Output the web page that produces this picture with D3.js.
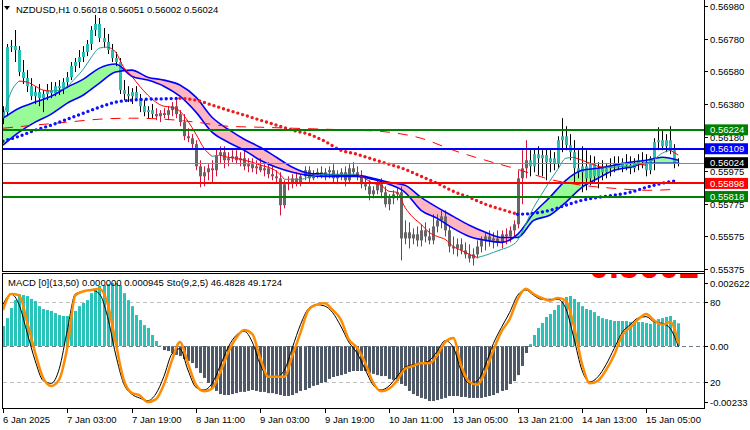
<!DOCTYPE html>
<html>
<head>
<meta charset="utf-8">
<script src="https://cdn.jsdelivr.net/npm/d3@7/dist/d3.min.js"></script>
<style>
	body { margin: 0; background: #fff; }
	svg { display: block; }
	text { font-family: "Liberation Sans", Arial, sans-serif; font-size: 9.5px; fill: #000; }
</style>
</head>
<body>
<svg id="chart" width="750" height="430"></svg>
<script>
// NZDUSD H1 candles, bar 0 = 6 Jan 2025 12:00
const open = [
	0.56295,0.56332,0.56728,0.56734,0.56710,0.56576,0.56539,0.56490,0.56429,0.56454,
	0.56417,0.56442,0.56466,0.56448,0.56490,0.56478,0.56515,0.56545,0.56612,0.56637,
	0.56667,0.56698,0.56747,0.56832,0.56869,0.56783,0.56759,0.56710,0.56661,0.56637,
	0.56466,0.56442,0.56429,0.56454,0.56417,0.56368,0.56332,0.56344,0.56320,0.56307,
	0.56326,0.56314,0.56344,0.56368,0.56320,0.56271,0.56185,0.56173,0.56137,0.56002,
	0.55941,0.55966,0.55990,0.55978,0.56070,0.56088,0.56039,0.56051,0.56063,0.56039,
	0.56051,0.56002,0.56015,0.55990,0.56002,0.55978,0.55990,0.55954,0.55941,0.55929,
	0.55765,0.55893,0.55905,0.55929,0.55905,0.55941,0.55978,0.55929,0.55954,0.55966,
	0.55941,0.55966,0.55978,0.55929,0.55954,0.55966,0.55917,0.55990,0.55966,0.55941,
	0.55893,0.55880,0.55832,0.55856,0.55893,0.55844,0.55771,0.55807,0.55832,0.55844,
	0.55563,0.55600,0.55563,0.55588,0.55551,0.55612,0.55575,0.55551,0.55636,0.55673,
	0.55697,0.55612,0.55514,0.55502,0.55527,0.55490,0.55466,0.55441,0.55466,0.55514,
	0.55551,0.55575,0.55551,0.55563,0.55539,0.55588,0.55575,0.55612,0.55649,0.55929,
	0.55990,0.56039,0.56002,0.56076,0.56051,0.56070,0.56027,0.56051,0.56021,0.56161,
	0.56185,0.56131,0.56088,0.55990,0.55966,0.56002,0.55929,0.56015,0.55941,0.55990,
	0.55966,0.55990,0.56002,0.56015,0.56002,0.56027,0.56009,0.55990,0.56021,0.56039,
	0.56027,0.55978,0.56051,0.56149,0.56161,0.56124,0.56161,0.56100,0.56018
];
const high = [
	0.56368,0.56747,0.56771,0.56832,0.56734,0.56649,0.56588,0.56539,0.56490,0.56503,
	0.56466,0.56503,0.56515,0.56515,0.56527,0.56539,0.56576,0.56637,0.56661,0.56710,
	0.56734,0.56771,0.56856,0.56924,0.56905,0.56844,0.56808,0.56747,0.56698,0.56661,
	0.56527,0.56490,0.56478,0.56490,0.56442,0.56405,0.56368,0.56381,0.56356,0.56344,
	0.56356,0.56368,0.56393,0.56405,0.56344,0.56320,0.56234,0.56198,0.56161,0.56039,
	0.56002,0.56015,0.56039,0.56112,0.56124,0.56124,0.56088,0.56100,0.56100,0.56088,
	0.56100,0.56051,0.56051,0.56039,0.56051,0.56015,0.56027,0.56002,0.55978,0.55966,
	0.55917,0.55941,0.55954,0.55966,0.55954,0.56002,0.56002,0.55978,0.55990,0.56002,
	0.55990,0.56002,0.56015,0.55978,0.55990,0.56002,0.56015,0.56027,0.56002,0.55978,
	0.55941,0.55917,0.55880,0.55917,0.55929,0.55880,0.55832,0.55856,0.55868,0.55880,
	0.55673,0.55661,0.55624,0.55636,0.55649,0.55661,0.55624,0.55710,0.55710,0.55734,
	0.55734,0.55636,0.55575,0.55563,0.55563,0.55539,0.55527,0.55502,0.55551,0.55575,
	0.55600,0.55612,0.55600,0.55612,0.55612,0.55624,0.55636,0.55673,0.55978,0.56100,
	0.56161,0.56100,0.56112,0.56124,0.56100,0.56112,0.56100,0.56088,0.56185,0.56295,
	0.56246,0.56198,0.56161,0.56100,0.56124,0.56100,0.56070,0.56063,0.56027,0.56039,
	0.56015,0.56051,0.56063,0.56063,0.56051,0.56076,0.56063,0.56051,0.56076,0.56088,
	0.56076,0.56063,0.56173,0.56240,0.56222,0.56198,0.56246,0.56137,0.56051
];
const low = [
	0.56259,0.56307,0.56698,0.56637,0.56551,0.56503,0.56454,0.56405,0.56381,0.56368,
	0.56332,0.56405,0.56417,0.56429,0.56436,0.56442,0.56478,0.56527,0.56576,0.56600,
	0.56637,0.56673,0.56710,0.56795,0.56759,0.56722,0.56686,0.56637,0.56612,0.56442,
	0.56405,0.56393,0.56381,0.56405,0.56332,0.56307,0.56295,0.56295,0.56283,0.56271,
	0.56295,0.56283,0.56307,0.56295,0.56246,0.56161,0.56149,0.56112,0.55978,0.55874,
	0.55880,0.55917,0.55905,0.55941,0.56015,0.55990,0.56002,0.56027,0.56015,0.56002,
	0.55978,0.55966,0.55966,0.55954,0.55966,0.55941,0.55929,0.55917,0.55905,0.55703,
	0.55746,0.55856,0.55868,0.55880,0.55880,0.55917,0.55905,0.55917,0.55929,0.55929,
	0.55917,0.55929,0.55905,0.55893,0.55917,0.55880,0.55905,0.55941,0.55917,0.55868,
	0.55856,0.55795,0.55807,0.55832,0.55807,0.55752,0.55734,0.55771,0.55795,0.55429,
	0.55527,0.55502,0.55527,0.55514,0.55514,0.55539,0.55527,0.55527,0.55600,0.55624,
	0.55575,0.55478,0.55466,0.55453,0.55466,0.55441,0.55417,0.55398,0.55441,0.55478,
	0.55490,0.55514,0.55502,0.55514,0.55502,0.55527,0.55539,0.55575,0.55624,0.55771,
	0.55929,0.55941,0.55966,0.55947,0.55941,0.55917,0.55966,0.55978,0.55990,0.56088,
	0.56100,0.56039,0.55905,0.55929,0.55844,0.55856,0.55886,0.55905,0.55868,0.55917,
	0.55929,0.55941,0.55966,0.55978,0.55966,0.55978,0.55954,0.55966,0.55978,0.55990,
	0.55941,0.55954,0.55978,0.56100,0.56100,0.56088,0.56076,0.55990,0.56002
];
const close = [
	0.56332,0.56728,0.56734,0.56710,0.56576,0.56539,0.56490,0.56429,0.56454,0.56417,
	0.56442,0.56466,0.56448,0.56490,0.56478,0.56515,0.56545,0.56612,0.56637,0.56667,
	0.56698,0.56747,0.56832,0.56869,0.56783,0.56759,0.56710,0.56661,0.56637,0.56466,
	0.56442,0.56429,0.56454,0.56417,0.56368,0.56332,0.56344,0.56320,0.56307,0.56326,
	0.56314,0.56344,0.56368,0.56320,0.56271,0.56185,0.56173,0.56137,0.56002,0.55941,
	0.55966,0.55990,0.55978,0.56070,0.56088,0.56039,0.56051,0.56063,0.56039,0.56051,
	0.56002,0.56015,0.55990,0.56002,0.55978,0.55990,0.55954,0.55941,0.55929,0.55765,
	0.55893,0.55905,0.55929,0.55905,0.55941,0.55978,0.55929,0.55954,0.55966,0.55941,
	0.55966,0.55978,0.55929,0.55954,0.55966,0.55917,0.55990,0.55966,0.55941,0.55893,
	0.55880,0.55832,0.55856,0.55893,0.55844,0.55771,0.55807,0.55832,0.55844,0.55563,
	0.55600,0.55563,0.55588,0.55551,0.55612,0.55575,0.55551,0.55636,0.55673,0.55697,
	0.55612,0.55514,0.55502,0.55527,0.55490,0.55466,0.55441,0.55466,0.55514,0.55551,
	0.55575,0.55551,0.55563,0.55539,0.55588,0.55575,0.55612,0.55649,0.55929,0.55990,
	0.56039,0.56002,0.56076,0.56051,0.56070,0.56027,0.56051,0.56021,0.56161,0.56185,
	0.56131,0.56088,0.55990,0.55966,0.56002,0.55929,0.56015,0.55941,0.55990,0.55966,
	0.55990,0.56002,0.56015,0.56002,0.56027,0.56009,0.55990,0.56021,0.56039,0.56027,
	0.55978,0.56051,0.56149,0.56161,0.56124,0.56161,0.56100,0.56018,0.56024
];
// bars painted grey (downtrend colouring), first and last index
const grayBars = [38, 130];

// indicator lines, sampled every 4 bars
const ribbonBars = d3.range(0, 169, 4);
const ribbonFast = [
	0.56295,0.56356,0.56393,0.56429,0.56484,0.56533,0.56600,0.56625,0.56551,0.56527,
	0.56490,0.56429,0.56332,0.56210,0.56149,0.56100,0.56039,0.55996,0.55966,0.55947,
	0.55941,0.55941,0.55941,0.55923,0.55893,0.55844,0.55734,0.55685,0.55624,0.55575,
	0.55551,0.55539,0.55588,0.55716,0.55813,0.55917,0.55978,0.55990,0.56009,0.56027,
	0.56039,0.56057,0.56039
];
const ribbonSlow = [
	0.56131,0.56210,0.56271,0.56320,0.56387,0.56436,0.56509,0.56576,0.56588,0.56545,
	0.56527,0.56497,0.56423,0.56301,0.56228,0.56167,0.56118,0.56057,0.55996,0.55960,
	0.55954,0.55947,0.55947,0.55929,0.55905,0.55887,0.55813,0.55752,0.55697,0.55643,
	0.55600,0.55569,0.55569,0.55673,0.55704,0.55783,0.55874,0.55929,0.55978,0.55996,
	0.56021,0.56021,0.56021
];
const dottedMa = [
	0.56155,0.56185,0.56222,0.56253,0.56289,0.56326,0.56362,0.56393,0.56405,0.56411,
	0.56413,0.56416,0.56405,0.56375,0.56344,0.56314,0.56283,0.56253,0.56222,0.56198,
	0.56155,0.56100,0.56076,0.56045,0.56015,0.55984,0.55941,0.55899,0.55850,0.55813,
	0.55771,0.55740,0.55710,0.55716,0.55734,0.55765,0.55795,0.55813,0.55826,0.55844,
	0.55874,0.55899,0.55917
];
// dashed slow average, every 8 bars
const dashedBars = d3.range(0, 169, 8);
const dashedMa = [
	0.56234,0.56253,0.56271,0.56289,0.56295,0.56289,0.56271,0.56246,0.56240,0.56234,
	0.56228,0.56222,0.56210,0.56173,0.56100,0.56039,0.55984,0.55923,0.55887,0.55868,
	0.55856,0.55862
];
// thin fast average, every 2 bars
const thinBars = d3.range(0, 169, 2);
const thinMa = [
	0.56295,0.56454,0.56521,0.56515,0.56490,0.56466,0.56460,0.56466,0.56490,0.56539,
	0.56594,0.56667,0.56722,0.56728,0.56698,0.56606,0.56551,0.56490,0.56436,0.56393,
	0.56368,0.56362,0.56338,0.56277,0.56198,0.56112,0.56063,0.56070,0.56057,0.56051,
	0.56039,0.56027,0.56009,0.55996,0.55972,0.55923,0.55923,0.55923,0.55935,0.55947,
	0.55954,0.55954,0.55954,0.55954,0.55954,0.55929,0.55899,0.55887,0.55850,0.55844,
	0.55752,0.55691,0.55649,0.55600,0.55575,0.55557,0.55514,0.55490,0.55466,0.55447,
	0.55460,0.55478,0.55496,0.55514,0.55551,0.55649,0.55752,0.55832,0.55911,0.55984,
	0.56051,0.56057,0.56039,0.56021,0.56002,0.55996,0.55996,0.56002,0.56002,0.56015,
	0.56009,0.56045,0.56082,0.56100,0.56070
];

// horizontal levels
const levelValues = [0.56224, 0.56109, 0.56024, 0.55898, 0.55818];
const levelLine = ["#008000", "#0000ff", "#778899", "#ff0000", "#008000"];
const levelBox = ["#008000", "#0000ff", "#000000", "#ff0000", "#008000"];
const levelWidth = [2, 2, 1, 2, 2];
const priceTicks = [0.5698, 0.5678, 0.5658, 0.5638, 0.5618, 0.55975, 0.55775, 0.55575, 0.55375];

// MACD histogram, one value per bar
const macdHist = [
	0.00083,0.00116,0.00158,0.00191,0.00216,0.00212,0.00208,0.00196,0.00187,0.00166,
	0.00154,0.00150,0.00146,0.00137,0.00129,0.00125,0.00125,0.00133,0.00146,0.00166,
	0.00179,0.00191,0.00220,0.00237,0.00250,0.00254,0.00258,0.00262,0.00262,0.00254,
	0.00220,0.00191,0.00166,0.00129,0.00108,0.00087,0.00075,0.00046,0.00021,0.00002,
	-0.00017,-0.00021,-0.00029,-0.00037,-0.00042,-0.00054,-0.00062,-0.00071,-0.00092,-0.00112,
	-0.00133,-0.00154,-0.00175,-0.00187,-0.00200,-0.00204,-0.00204,-0.00200,-0.00196,-0.00191,
	-0.00191,-0.00187,-0.00183,-0.00187,-0.00191,-0.00191,-0.00196,-0.00196,-0.00200,-0.00204,
	-0.00208,-0.00208,-0.00204,-0.00196,-0.00187,-0.00183,-0.00175,-0.00166,-0.00162,-0.00154,
	-0.00150,-0.00137,-0.00129,-0.00125,-0.00121,-0.00116,-0.00108,-0.00104,-0.00104,-0.00104,
	-0.00104,-0.00112,-0.00116,-0.00121,-0.00125,-0.00125,-0.00137,-0.00141,-0.00146,-0.00158,
	-0.00166,-0.00187,-0.00200,-0.00208,-0.00216,-0.00220,-0.00229,-0.00229,-0.00225,-0.00220,
	-0.00216,-0.00208,-0.00208,-0.00208,-0.00212,-0.00212,-0.00216,-0.00216,-0.00216,-0.00216,
	-0.00212,-0.00208,-0.00204,-0.00196,-0.00187,-0.00183,-0.00158,-0.00146,-0.00121,-0.00083,
	-0.00029,0.00008,0.00046,0.00075,0.00096,0.00121,0.00133,0.00150,0.00171,0.00187,
	0.00204,0.00208,0.00196,0.00183,0.00166,0.00154,0.00150,0.00141,0.00125,0.00116,
	0.00112,0.00108,0.00104,0.00104,0.00104,0.00104,0.00100,0.00100,0.00100,0.00100,
	0.00096,0.00092,0.00104,0.00112,0.00116,0.00121,0.00125,0.00108,0.000945
];
// stochastic, every 2 bars
const stoBars = d3.range(0, 169, 2);
const stoMain = [
	78,86,78,57,36,21,19,30,59,86,88,89,86,69,41,19,11,8,6,11,
	24,41,45,29,16,14,19,32,46,55,58,50,33,24,24,29,46,63,75,78,
	77,72,62,50,42,30,18,14,17,24,31,33,34,36,43,51,46,28,19,21,
	33,49,61,72,85,89,85,82,82,82,75,53,29,20,24,33,45,57,63,68,
	69,65,64,60,46.4828
];
const stoSignal = [
	74,86,85,65,42,23,17,22,46,85,88,89,90,79,50,22,12,10,5,7,
	18,36,50,34,18,13,15,27,42,53,59,56,38,24,24,24,40,57,74,78,
	79,74,67,52,46,35,20,13,15,21,30,32,34,34,40,50,53,32,20,18,
	28,44,58,67,82,90,86,83,81,83,81,62,34,19,21,29,40,55,61,67,
	71,66,63,65,49.1724
];

const timeBars = [0, 16, 32, 48, 64, 80, 96, 112, 128, 144, 160];
const timeLabels = ["6 Jan 2025", "7 Jan 03:00", "7 Jan 19:00", "8 Jan 11:00", "9 Jan 03:00",
	"9 Jan 19:00", "10 Jan 11:00", "13 Jan 05:00", "13 Jan 21:00", "14 Jan 13:00", "15 Jan 05:00"];

// ================== scales ==================
const svg = d3.select("#chart");
const x = d3.scaleLinear().domain([0, 168]).range([3, 678.4]);
const yPrice = d3.scaleLinear().domain([0.55375, 0.5698]).range([269.3, 5.7]);
const yMacd = d3.scaleLinear().domain([-0.00233, 0.002622]).range([402, 283]);
const ySto = d3.scaleLinear().domain([0, 100]).range([408.7, 275.3]);
const fmt5 = d3.format(".5f");

const defs = svg.append("defs");
defs.append("clipPath").attr("id", "clipMain").append("rect")
	.attr("x", 3).attr("y", 0).attr("width", 701).attr("height", 271);
defs.append("clipPath").attr("id", "clipSub").append("rect")
	.attr("x", 3).attr("y", 274).attr("width", 701).attr("height", 134);

const main = svg.append("g").attr("clip-path", "url(#clipMain)");
const sub = svg.append("g").attr("clip-path", "url(#clipSub)");

// ================== ribbon ==================
const ribbon = ribbonBars.map((b, k) => ({ b, a: ribbonFast[k], s: ribbonSlow[k] }));
const curve = d3.curveMonotoneX;
defs.append("clipPath").attr("id", "aboveSlow").append("path")
	.attr("d", d3.area().curve(curve).x((d) => x(d.b)).y0(0).y1((d) => yPrice(d.s))(ribbon));
defs.append("clipPath").attr("id", "belowSlow").append("path")
	.attr("d", d3.area().curve(curve).x((d) => x(d.b)).y0(275).y1((d) => yPrice(d.s))(ribbon));
const band = d3.area().curve(curve).x((d) => x(d.b)).y0((d) => yPrice(d.a)).y1((d) => yPrice(d.s));
main.append("path").attr("d", band(ribbon)).attr("fill", "#98fb98").attr("clip-path", "url(#aboveSlow)");
main.append("path").attr("d", band(ribbon)).attr("fill", "#ffb6c1").attr("clip-path", "url(#belowSlow)");

// ================== candles ==================
const candles = close.map((c, i) => ({ i, o: open[i], h: high[i], l: low[i], c,
	dn: i >= grayBars[0] && i <= grayBars[1] }));
main.selectAll("line.wick").data(candles).join("line")
	.attr("class", "wick")
	.attr("x1", (d) => Math.round(x(d.i)) + 0.5)
	.attr("x2", (d) => Math.round(x(d.i)) + 0.5)
	.attr("y1", (d) => yPrice(d.h))
	.attr("y2", (d) => yPrice(d.l))
	.attr("stroke", (d) => (d.dn ? "#d2143a" : "#000"))
	.attr("stroke-width", 1);
main.selectAll("rect.body").data(candles).join("rect")
	.attr("class", "body")
	.attr("x", (d) => Math.round(x(d.i)) - 1)
	.attr("width", 3)
	.attr("y", (d) => yPrice(Math.max(d.o, d.c)))
	.attr("height", (d) => Math.max(1, yPrice(Math.min(d.o, d.c)) - yPrice(Math.max(d.o, d.c))))
	.attr("fill", (d) => (d.dn ? "#666666" : "#26bdb2"));

// ================== moving averages ==================
const lineOf = (bars) => d3.line().curve(curve).x((d, k) => x(bars[k])).y((d) => yPrice(d));
main.append("path").attr("d", lineOf(ribbonBars)(ribbonFast))
	.attr("fill", "none").attr("stroke", "#0000ff").attr("stroke-width", 1.6);
main.append("path").attr("d", lineOf(ribbonBars)(ribbonSlow))
	.attr("fill", "none").attr("stroke", "#0000ff").attr("stroke-width", 1.6);

main.append("path").attr("d", lineOf(dashedBars)(dashedMa))
	.attr("fill", "none").attr("stroke", "#ff0000").attr("stroke-width", 1)
	.style("stroke-dasharray", "10, 8");

// split a series into runs of rising / falling
function slopeRuns(bars, vals) {
	const runs = [];
	let cur = null;
	for (let k = 1; k < vals.length; k++) {
		const up = vals[k] >= vals[k - 1];
		if (!cur || cur.up !== up) {
			cur = { up, pts: [[bars[k - 1], vals[k - 1]]] };
			runs.push(cur);
		}
		cur.pts.push([bars[k], vals[k]]);
	}
	return runs;
}
const ptLine = d3.line().curve(curve).x((p) => x(p[0])).y((p) => yPrice(p[1]));

slopeRuns(thinBars, thinMa).forEach((r) => {
	main.append("path").attr("d", ptLine(r.pts))
		.attr("fill", "none").attr("stroke", r.up ? "#1e9e96" : "#ff0000").attr("stroke-width", 1);
});

slopeRuns(ribbonBars, dottedMa).forEach((r) => {
	main.append("path").attr("d", ptLine(r.pts))
		.attr("fill", "none").attr("stroke", r.up ? "#1010ff" : "#f01818")
		.attr("stroke-width", 3.4).attr("stroke-linecap", "round")
		.style("stroke-dasharray", "0, 5");
});

// ================== levels ==================
levelValues.forEach((v, k) => {
	const yy = Math.round(yPrice(v)) + (levelWidth[k] === 1 ? 0.5 : 0);
	svg.append("line")
		.attr("x1", 3).attr("x2", 704)
		.attr("y1", yy).attr("y2", yy)
		.attr("stroke", levelLine[k]).attr("stroke-width", levelWidth[k]);
});

// ================== frame & price axis ==================
svg.append("line").attr("x1", 2.5).attr("x2", 2.5).attr("y1", 0).attr("y2", 271.5).attr("stroke", "#000");
svg.append("line").attr("x1", 2).attr("x2", 705).attr("y1", 271.5).attr("y2", 271.5).attr("stroke", "#000");
svg.append("line").attr("x1", 2).attr("x2", 705).attr("y1", 273.5).attr("y2", 273.5).attr("stroke", "#000");
svg.append("line").attr("x1", 2.5).attr("x2", 2.5).attr("y1", 273.5).attr("y2", 408.5).attr("stroke", "#000");
svg.append("line").attr("x1", 2).attr("x2", 705).attr("y1", 408.5).attr("y2", 408.5).attr("stroke", "#000");
svg.append("line").attr("x1", 704.5).attr("x2", 704.5).attr("y1", 0).attr("y2", 408.5).attr("stroke", "#000");

priceTicks.forEach((v) => {
	const yy = Math.round(yPrice(v)) + 0.5;
	svg.append("line").attr("x1", 704).attr("x2", 708).attr("y1", yy).attr("y2", yy).attr("stroke", "#000");
	svg.append("text").attr("x", 710).attr("y", yy + 3.5).text(fmt5(v));
});

levelValues.forEach((v, k) => {
	const yy = yPrice(v);
	svg.append("rect").attr("x", 705).attr("y", yy - 5.5).attr("width", 43).attr("height", 11)
		.attr("fill", levelBox[k]);
	svg.append("text").attr("x", 710).attr("y", yy + 3.5).text(fmt5(v)).style("fill", "#fff");
});

// title
svg.append("path").attr("d", "M4,6 L10,6 L7,10 Z").attr("fill", "#000");
svg.append("text").attr("x", 16).attr("y", 13)
	.text("NZDUSD,H1  " + fmt5(open[168]) + " " + fmt5(high[168]) + " " + fmt5(low[168]) + " " + fmt5(close[168]));

// ================== MACD / stochastic window ==================
sub.append("line").attr("x1", 3).attr("x2", 704).attr("y1", Math.round(ySto(80)) + 0.5).attr("y2", Math.round(ySto(80)) + 0.5)
	.attr("stroke", "#c0c0c0").style("stroke-dasharray", "4, 3");
sub.append("line").attr("x1", 3).attr("x2", 704).attr("y1", Math.round(ySto(20)) + 0.5).attr("y2", Math.round(ySto(20)) + 0.5)
	.attr("stroke", "#c0c0c0").style("stroke-dasharray", "4, 3");

sub.selectAll("rect.hist").data(macdHist).join("rect")
	.attr("class", "hist")
	.attr("x", (d, i) => Math.round(x(i)) - 1)
	.attr("width", 3)
	.attr("y", (d) => Math.min(yMacd(d), yMacd(0)))
	.attr("height", (d) => Math.abs(yMacd(d) - yMacd(0)))
	.attr("fill", (d) => (d >= 0 ? "#2ac3b9" : "#4f5866"));

sub.append("line").attr("x1", 3).attr("x2", 704).attr("y1", Math.round(yMacd(0)) + 0.5).attr("y2", Math.round(yMacd(0)) + 0.5)
	.attr("stroke", "#6e7b8b").style("stroke-dasharray", "4, 3");

const stoLine = d3.line().curve(curve).x((d, k) => x(stoBars[k])).y((d) => ySto(d));
sub.append("path").attr("d", stoLine(stoMain))
	.attr("fill", "none").attr("stroke", "#000").attr("stroke-width", 1);
sub.append("path").attr("d", stoLine(stoSignal))
	.attr("fill", "none").attr("stroke", "#ff8c00").attr("stroke-width", 2.5);

// big price readout, only its lower edge shows in this window
sub.append("text").attr("x", 589).attr("y", 277.5).text(fmt5(close[168]))
	.style("font-size", "36px").style("font-weight", "bold").style("fill", "#ff0000");

svg.append("text").attr("x", 8).attr("y", 286)
	.text("MACD [0](13,50) 0.000000 " + macdHist[168].toFixed(6) + "  Sto(9,2,5) "
		+ stoMain[stoMain.length - 1].toFixed(4) + " " + stoSignal[stoSignal.length - 1].toFixed(4));

const subTicks = [
	{ y: yMacd(0.002622), t: "0.002622" },
	{ y: ySto(80), t: "80" },
	{ y: yMacd(0), t: "0.00" },
	{ y: ySto(20), t: "20" },
	{ y: yMacd(-0.00233), t: "-0.00233" },
];
subTicks.forEach((d) => {
	const yy = Math.round(d.y) + 0.5;
	svg.append("line").attr("x1", 704).attr("x2", 708).attr("y1", yy).attr("y2", yy).attr("stroke", "#000");
	svg.append("text").attr("x", 710).attr("y", yy + 3.5).text(d.t);
});

// ================== time axis ==================
timeBars.forEach((b, k) => {
	const xx = Math.round(x(b)) + 0.5;
	svg.append("line").attr("x1", xx).attr("x2", xx).attr("y1", 408).attr("y2", 413).attr("stroke", "#000");
	svg.append("text").attr("x", xx - 0.5).attr("y", 423).text(timeLabels[k]);
});
</script>
</body>
</html>
